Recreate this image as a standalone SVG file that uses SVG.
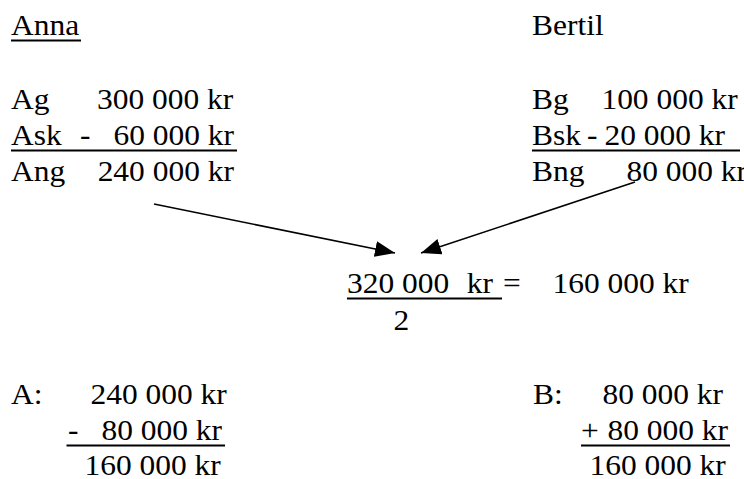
<svg xmlns="http://www.w3.org/2000/svg" width="744" height="479" viewBox="0 0 744 479">
<style>
.t text { font-family: 'Liberation Serif', 'Times New Roman', Times, 'DejaVu Serif', serif; font-size: 29px; fill: #000; }
.rule { stroke: #000; stroke-width: 2; fill: none; }
.conn { stroke: #000; stroke-width: 1.6; fill: none; marker-end: url(#arrow); }
</style>
<defs>
<marker id="arrow" markerUnits="userSpaceOnUse" markerWidth="22" markerHeight="16" refX="20" refY="8" orient="auto">
<polygon points="0,0 20,8 0,16" fill="#000"/>
</marker>
</defs>
<rect width="744" height="479" fill="#fff"/>
<g id="anna">
<g class="t" transform="scale(1.085 1)" font-family="Liberation Serif, serif">
<text x="10.14" y="35">Anna</text>
<text x="10.14" y="109.5">Ag</text><text x="89.4" y="109.5">300 000 kr</text>
<text x="10.14" y="145">Ask</text><text x="73.73" y="145">-</text><text x="104.6" y="145">60 000 kr</text>
<text x="10.14" y="181">Ang</text><text x="90" y="181">240 000 kr</text>
</g>
<line class="rule" x1="11" y1="40.5" x2="81" y2="40.5"/>
<line class="rule" x1="11" y1="150.5" x2="237" y2="150.5"/>
</g>
<g id="bertil">
<g class="t" transform="scale(1.085 1)" font-family="Liberation Serif, serif">
<text x="490.32" y="35">Bertil</text>
<text x="490.32" y="109.5">Bg</text><text x="554.3" y="109.5">100 000 kr</text>
<text x="490.32" y="145">Bsk</text><text x="541.01" y="145">-</text><text x="557.1" y="145">20 000 kr</text>
<text x="490.32" y="181">Bng</text><text x="577.4" y="181">80 000 kr</text>
</g>
<line class="rule" x1="532" y1="150.5" x2="740" y2="150.5"/>
</g>
<g id="sum">
<g class="t" transform="scale(1.085 1)" font-family="Liberation Serif, serif">
<text x="319.8" y="293">320 000</text><text x="430.14" y="293">kr</text><text x="463.59" y="293">=</text>
<text x="509.2" y="293">160 000 kr</text>
<text x="362.6" y="330">2</text>
</g>
<line class="rule" x1="347" y1="298.5" x2="502" y2="298.5"/>
</g>
<g id="a-result">
<g class="t" transform="scale(1.085 1)" font-family="Liberation Serif, serif">
<text x="10.14" y="404">A:</text><text x="83.4" y="404">240 000 kr</text>
<text x="62.67" y="440">-</text><text x="93.5" y="440">80 000 kr</text>
<text x="77.9" y="475.5">160 000 kr</text>
</g>
<line class="rule" x1="66.5" y1="445.5" x2="225" y2="445.5"/>
</g>
<g id="b-result">
<g class="t" transform="scale(1.085 1)" font-family="Liberation Serif, serif">
<text x="491.24" y="404">B:</text><text x="555.3" y="404">80 000 kr</text>
<text x="535.48" y="440">+</text><text x="559.9" y="440">80 000 kr</text>
<text x="543.3" y="475.5">160 000 kr</text>
</g>
<line class="rule" x1="581" y1="445.5" x2="730" y2="445.5"/>
</g>
<g id="connectors">
<line class="conn" x1="154" y1="204" x2="395" y2="253"/>
<line class="conn" x1="635" y1="182" x2="421" y2="253"/>
</g>
</svg>
